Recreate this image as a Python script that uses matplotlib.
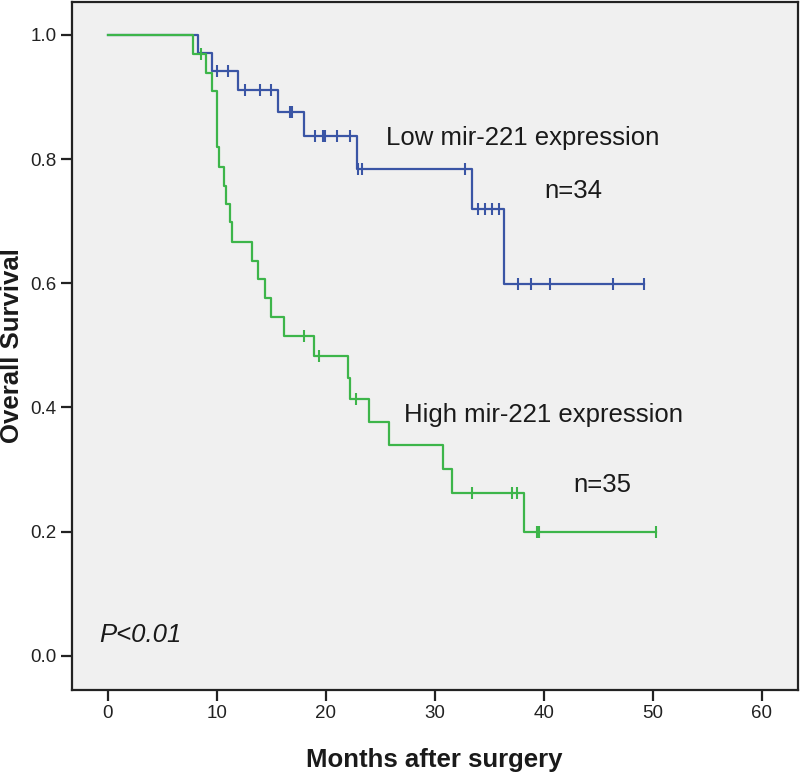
import numpy as np
import matplotlib
matplotlib.use("Agg")
import matplotlib.pyplot as plt

plt.rcParams['font.family'] = ['Liberation Sans', 'DejaVu Sans']

# Low mir-221 group (n=34): event times, survival after each step, censor times
low_times = [0, 8.3, 9.6, 12.0, 15.6, 18.0, 22.9, 33.4, 36.4]
low_surv = [1.0, 0.970, 0.942, 0.911, 0.876, 0.837, 0.784, 0.719, 0.599]
low_censor = [10.0, 11.0, 12.6, 14.0, 15.0, 16.75, 16.95, 19.0, 19.75, 19.95,
              21.0, 22.2, 23.0, 23.3, 32.8, 34.0, 34.65, 35.3, 35.9, 37.6,
              38.8, 40.6, 46.4, 49.2]

# High mir-221 group (n=35)
high_times = [0, 7.8, 9.0, 9.6, 10.0, 10.2, 10.65, 10.85, 11.25, 11.4, 13.2,
              13.8, 14.4, 15.0, 16.2, 18.9, 22.05, 22.2, 24.0, 25.8, 30.8,
              31.6, 38.2]
high_surv = [1.0, 0.969, 0.939, 0.910, 0.819, 0.788, 0.757, 0.727, 0.698,
             0.667, 0.636, 0.607, 0.576, 0.545, 0.515, 0.483, 0.448, 0.414,
             0.377, 0.339, 0.301, 0.263, 0.199]
high_censor = [8.6, 18.0, 19.4, 22.8, 33.4, 37.1, 37.55, 39.4, 39.6, 50.3]

x_ticks = [0, 10, 20, 30, 40, 50, 60]
y_ticks = [0.0, 0.2, 0.4, 0.6, 0.8, 1.0]

blue = '#3a55a5'
green = '#3db54a'


def draw_km(ax, times, surv, censor, color):
    t = np.asarray(times)
    s = np.asarray(surv)
    end = max(censor)
    ax.step(np.append(t, end), np.append(s, s[-1]), where='post',
            color=color, lw=1.6)
    # level of the curve at each censor time
    idx = np.searchsorted(t, censor, side='right') - 1
    ax.plot(censor, s[idx], linestyle='none', marker='|', ms=8, mew=1.5,
            color=color)


fig = plt.figure(figsize=(8, 7.74), dpi=100)
ax = fig.add_axes([0.0896, 0.1085, 0.9075, 0.889])
ax.set_facecolor('#f0f0f0')

draw_km(ax, low_times, low_surv, low_censor, blue)
draw_km(ax, high_times, high_surv, high_censor, green)

ax.set_xlim(-3.3, 63.3)
ax.set_ylim(-0.055, 1.053)
ax.set_xticks(x_ticks)
ax.set_yticks(y_ticks)
ax.set_yticklabels(['%.1f' % v for v in y_ticks])
ax.tick_params(direction='out', length=8, width=1.6, labelsize=13.5,
               colors='#222222', pad=3)
for sp in ax.spines.values():
    sp.set_linewidth(1.6)
    sp.set_color('#222222')

txt = dict(fontsize=18.5, color='#1a1a1a', va='center', ha='left')
ax.text(25.5, 0.834, 'Low mir-221 expression', **txt)
ax.text(40.1, 0.748, 'n=34', **txt)
ax.text(27.2, 0.388, 'High mir-221 expression', **txt)
ax.text(42.7, 0.275, 'n=35', **txt)
ax.text(-0.8, 0.034, 'P<0.01', style='italic', **txt)

fig.text(0.5434, 1 - 760 / 774, 'Months after surgery', fontsize=18.5,
         fontweight='bold', ha='center', va='center', color='#1a1a1a')
fig.text(12 / 800, 1 - 346 / 774, 'Overall Survival', fontsize=18.5,
         fontweight='bold', ha='center', va='center', rotation=90,
         color='#1a1a1a')

fig.savefig('out.png', dpi=100)
